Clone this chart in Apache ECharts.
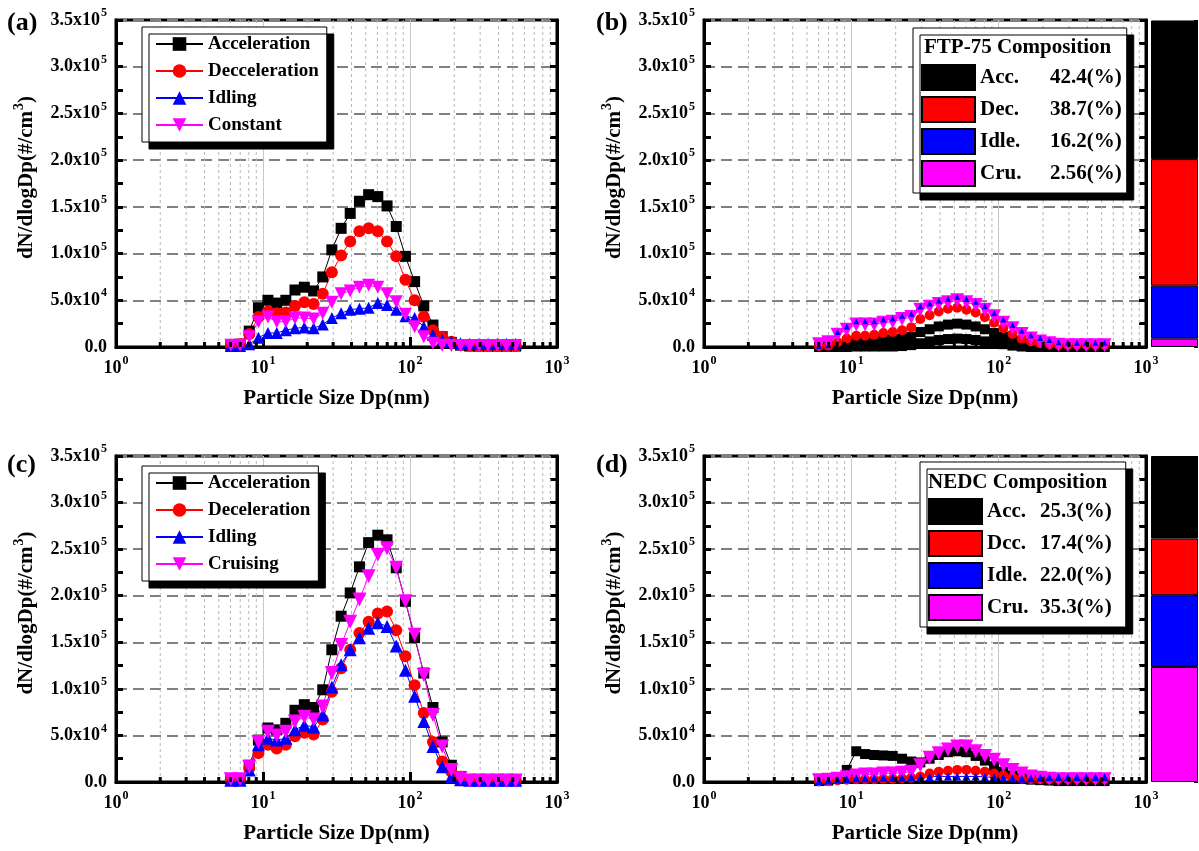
<!DOCTYPE html>
<html><head><meta charset="utf-8">
<script src="https://cdn.jsdelivr.net/npm/echarts@6/dist/echarts.min.js"></script>
<style>html,body{margin:0;padding:0;background:#fff}#c{width:1199px;height:851px}</style>
</head><body><div id="c"></div>
<script>
// ---------------- DATA ----------------
const sizes = [6.04, 6.98, 8.06, 9.31, 10.8, 12.4, 14.3, 16.5, 19.1, 22.1, 25.5, 29.4, 34.0, 39.2, 45.3, 52.3, 60.4, 69.8, 80.6, 93.1, 107.5, 124.1, 143.3, 165.5, 191.1, 220.7, 254.8, 294.3, 339.8, 392.4, 453.2, 523.3];

// (a)
const aAcc = [2000, 3000, 17000, 42000, 50000, 47000, 50000, 61000, 64000, 60000, 75000, 104000, 127000, 143000, 156000, 163000, 161000, 151000, 129000, 97000, 70000, 44000, 23500, 11000, 5000, 2000, 1000, 1000, 1000, 1000, 1000, 1000];
const aDec = [2000, 3000, 14000, 32000, 38000, 36000, 37000, 44000, 48000, 46000, 57000, 80000, 98000, 113000, 124000, 127000, 124000, 113000, 97000, 72000, 50000, 32500, 18000, 11000, 5500, 2500, 1500, 1000, 1000, 1000, 1000, 1000];
const aIdle = [1000, 1000, 3000, 10000, 15000, 15000, 18000, 20000, 21000, 20000, 24000, 31000, 36000, 40000, 41000, 42000, 47000, 45000, 40000, 33000, 31000, 21700, 12800, 7500, 6000, 4000, 3500, 3500, 3500, 3500, 3500, 3500];
const aCon = [2000, 2000, 11000, 27000, 32000, 27000, 27000, 31000, 31000, 30000, 36000, 48000, 57000, 60000, 64000, 66000, 64000, 57000, 48500, 35000, 21700, 11000, 4000, 2000, 1500, 1500, 1500, 1500, 1500, 1500, 1500, 1500];
// (c)
const cAcc = [3000, 3000, 18000, 45000, 58000, 56000, 63000, 77000, 83000, 80000, 99000, 142000, 178000, 203000, 231000, 257000, 265000, 260000, 230000, 194000, 155000, 117000, 80000, 43000, 18000, 6000, 2000, 1500, 1500, 1500, 1500, 1500];
const cDec = [3000, 3000, 15000, 31000, 40000, 36000, 40000, 49000, 53000, 51000, 67000, 97000, 122000, 142000, 160000, 172000, 181000, 183000, 163000, 135000, 104000, 74000, 43000, 22000, 11000, 5700, 2500, 2000, 2000, 2000, 2000, 2000];
const cIdle = [2000, 2000, 13000, 40000, 47000, 45000, 47000, 56000, 61000, 59000, 72000, 102000, 126000, 142000, 155000, 165000, 171000, 167000, 146000, 120000, 92000, 65000, 38000, 16500, 5700, 2500, 2000, 2000, 2000, 2000, 2000, 2000];
const cCru = [3000, 3000, 16500, 43000, 54000, 50000, 54000, 65000, 70000, 67000, 81000, 117000, 147000, 172000, 196000, 221000, 244000, 251000, 230000, 194000, 158000, 115000, 72000, 38000, 13000, 4000, 1500, 1500, 1500, 1500, 1500, 1500];
// (b) FTP-75
const bAcc = [500, 800, 2000, 4000, 6000, 6000, 6500, 7500, 8000, 9000, 11000, 16000, 19000, 22000, 24000, 25000, 24000, 22000, 19000, 15000, 11000, 7000, 4000, 2500, 1500, 1000, 500, 500, 500, 500, 500, 500];
const bAcc2 = [0, 0, 0, 0, 500, 500, 500, 500, 500, 1000, 2000, 4000, 6000, 7500, 8500, 9000, 8500, 7500, 6000, 4500, 3000, 1500, 500, 0, 0, 0, 0, 0, 0, 0, 0, 0];
const bDec = [1000, 1500, 5000, 9000, 12000, 12000, 13000, 15000, 16000, 18000, 21000, 30000, 34000, 38000, 41000, 42000, 40000, 37000, 32000, 26000, 20000, 14000, 9000, 6000, 4000, 3000, 2500, 2500, 2500, 2500, 2500, 2500];
const bCru = [3000, 5000, 13000, 18500, 24000, 24000, 24000, 26000, 27000, 30000, 32000, 40000, 43000, 46000, 48000, 50000, 48000, 45000, 40000, 33000, 26000, 20000, 14000, 9000, 6000, 4000, 2500, 2000, 2000, 2000, 2000, 2000];
const bIdle = [1000, 2000, 16000, 22000, 27500, 27500, 27500, 29500, 30500, 33500, 35500, 43500, 46500, 49500, 51500, 53500, 51500, 48500, 43500, 36500, 29500, 23500, 17500, 12500, 9500, 7500, 5000, 4500, 4500, 4500, 4500, 4500];
// (d) NEDC
const dAcc = [1000, 1500, 5000, 13000, 33000, 30000, 29000, 28500, 28000, 25000, 22000, 21000, 25000, 29000, 32000, 33000, 32000, 28000, 23000, 17000, 11000, 7000, 4000, 2500, 2000, 1500, 1000, 1000, 1000, 1000, 1000, 1000];
const dDec = [1000, 1500, 2000, 2500, 3000, 3000, 3000, 3500, 3500, 4000, 4500, 6000, 9000, 11000, 12000, 13000, 13000, 12000, 11000, 9000, 7000, 5000, 3500, 3000, 3000, 3000, 3500, 3500, 3500, 3500, 3500, 3500];
const dCru = [2000, 2500, 3500, 5000, 7000, 8000, 8000, 9000, 9000, 10000, 11000, 18000, 26000, 31000, 35000, 38000, 38000, 33000, 28000, 24000, 18000, 13000, 9000, 6000, 4500, 3500, 3000, 3000, 3000, 3000, 3000, 3000];
const dIdle = [1000, 1500, 2500, 3000, 4000, 4000, 4000, 4500, 4500, 4500, 5000, 5000, 5500, 6000, 6000, 6000, 6000, 6000, 5500, 5000, 4500, 4000, 3500, 4000, 4500, 5000, 5000, 5000, 5000, 5000, 5000, 5000];

// composition bars
const ftpNames = ['Acc.', 'Dec.', 'Idle.', 'Cru.'];
const ftpPct = [42.4, 38.7, 16.2, 2.56];
const ftpPctLabels = ['42.4(%)', '38.7(%)', '16.2(%)', '2.56(%)'];
const nedcNames = ['Acc.', 'Dcc.', 'Idle.', 'Cru.'];
const nedcPct = [25.3, 17.4, 22.0, 35.3];
const nedcPctLabels = ['25.3(%)', '17.4(%)', '22.0(%)', '35.3(%)'];

// log-axis minor tick positions
const minorTickVals = [2, 3, 4, 5, 6, 7, 8, 9, 20, 30, 40, 50, 60, 70, 80, 90, 200, 300, 400, 500, 600, 700, 800, 900];

// ---------------- STYLE ----------------
const F = "'Liberation Serif','Times New Roman',serif";
const COLORS = ['#000000', '#ff0000', '#0000ff', '#ff00ff'];
const DOWN = 'path://M0,0L10,0L5,8.7Z';

const PLOTS = [
  {left: 116, top: 20, width: 441, height: 327},  // a
  {left: 704, top: 20, width: 442, height: 327},  // b
  {left: 116, top: 456, width: 441, height: 326}, // c
  {left: 704, top: 456, width: 442, height: 326}  // d
];
const BARS = [
  {left: 1151, top: 20, width: 47, height: 327},
  {left: 1151, top: 456, width: 47, height: 326}
];

const grid = PLOTS.map(g => Object.assign({show: true, borderColor: '#000', borderWidth: 3, containLabel: false, outerBoundsMode: 'none'}, g))
  .concat(BARS.map(g => Object.assign({show: false, containLabel: false, outerBoundsMode: 'none'}, g)));

const boldText = {fontFamily: F, fontWeight: 'bold', color: '#000'};
const supRich = (big, small, raise) => ({
  m: Object.assign({fontSize: big, lineHeight: big + 2, verticalAlign: 'middle'}, boldText),
  s: Object.assign({fontSize: small, lineHeight: small, verticalAlign: 'middle', padding: [0, 0, raise, 1]}, boldText)
});

const xAxis = PLOTS.map((g, i) => ({
  gridIndex: i, type: 'log', logBase: 10, min: 1, max: 1000,
  axisLine: {show: true, onZero: false, lineStyle: {color: '#000', width: 3}},
  axisTick: {show: true, inside: true, length: 10, lineStyle: {color: '#000', width: 3}},
  splitLine: {show: true, lineStyle: {color: '#c8c8c8', width: 1}},
  axisLabel: {
    margin: 11, showMinLabel: true, showMaxLabel: true,
    formatter: v => '{m|10}{s|' + Math.round(Math.log10(v)) + '}',
    rich: supRich(18, 12, 14)
  },
  name: 'Particle Size Dp(nm)', nameLocation: 'middle', nameGap: 41,
  nameTextStyle: Object.assign({fontSize: 21}, boldText)
})).concat(BARS.map((g, i) => ({gridIndex: 4 + i, type: 'category', data: ['comp'], show: false})));

const yFmt = v => v === 0 ? '{m|0.0}' : (v < 100000 ? '{m|' + (v / 1e4).toFixed(1) + 'x10}{s|4}' : '{m|' + (v / 1e5).toFixed(1) + 'x10}{s|5}');

const yAxis = [];
PLOTS.forEach((g, i) => {
  yAxis.push({
    gridIndex: i, type: 'value', min: 0, max: 350000, interval: 50000,
    axisLine: {show: true, lineStyle: {color: '#000', width: 3}},
    axisTick: {show: true, inside: true, length: 7, lineStyle: {color: '#000', width: 3}},
    minorTick: {show: true, splitNumber: 2, length: 7, lineStyle: {color: '#000', width: 3}},
    splitLine: {show: true, lineStyle: {type: [11, 6], color: '#808080', width: 2}},
    axisLabel: {margin: 9, formatter: yFmt, rich: supRich(18, 12, 14)},
    name: '{m|dN/dlogDp(#/cm}{s|3}{m|)}', nameLocation: 'middle', nameGap: 78,
    nameTextStyle: Object.assign({fontSize: 21, padding: [0, 0, 0, 12], rich: supRich(21, 14, 14)}, boldText)
  });
  yAxis.push({
    gridIndex: i, type: 'value', position: 'right', min: 0, max: 350000, interval: 50000,
    axisLine: {show: true, lineStyle: {color: '#000', width: 3}},
    axisTick: {show: true, inside: true, length: 7, lineStyle: {color: '#000', width: 3}},
    minorTick: {show: true, splitNumber: 2, length: 7, lineStyle: {color: '#000', width: 3}},
    splitLine: {show: false}, axisLabel: {show: false}
  });
});
BARS.forEach((g, i) => {
  yAxis.push({
    gridIndex: 4 + i, type: 'value', position: 'right', min: 0, max: 100, interval: 100 / 14,
    axisLine: {show: false},
    axisTick: {show: true, inside: true, length: 4, lineStyle: {color: '#000', width: 1}},
    splitLine: {show: false}, axisLabel: {show: false}
  });
});

// ---------------- SERIES ----------------
const series = [];
function addGridDecor(gi) {
  const data = minorTickVals.map(v => [v, 0]);
  series.push({
    type: 'custom', xAxisIndex: gi, yAxisIndex: gi * 2, data, z: 1, silent: true, clip: false,
    encode: {x: 0, y: 1},
    renderItem: (params, api) => {
      const b = api.coord([api.value(0), 0]);
      const t = api.coord([api.value(0), 350000]);
      return {type: 'line', shape: {x1: b[0], y1: b[1], x2: t[0], y2: t[1]},
        style: {stroke: '#b8b8b8', lineWidth: 1, lineDash: [3, 3]}};
    }
  });
  series.push({
    type: 'custom', xAxisIndex: gi, yAxisIndex: gi * 2, data, z: 5, silent: true, clip: false,
    encode: {x: 0, y: 1},
    renderItem: (params, api) => {
      const b = api.coord([api.value(0), 0]);
      return {type: 'line', shape: {x1: b[0], y1: b[1], x2: b[0], y2: b[1] - 5},
        style: {stroke: '#000', lineWidth: 3}};
    }
  });
}
function line(name, vals, gi, color, symbol, size) {
  series.push({
    type: 'line', name, xAxisIndex: gi, yAxisIndex: gi * 2,
    data: sizes.map((s, k) => [s, vals[k]]),
    symbol, symbolSize: size, showSymbol: true, showAllSymbol: true, clip: false,
    lineStyle: {color, width: 1}, itemStyle: {color, borderWidth: 0},
    emphasis: {disabled: true}, silent: true, z: 2
  });
}
[0, 1, 2, 3].forEach(addGridDecor);

// (a)
line('Acceleration', aAcc, 0, COLORS[0], 'rect', 11);
line('Decceleration', aDec, 0, COLORS[1], 'circle', 12);
line('Idling', aIdle, 0, COLORS[2], 'triangle', 12);
line('Constant', aCon, 0, COLORS[3], DOWN, 13);
// (b)
line('FTP Acc', bAcc, 1, COLORS[0], 'rect', 10);
line('FTP Acc lower', bAcc2, 1, COLORS[0], 'rect', 10);
line('FTP Dec', bDec, 1, COLORS[1], 'circle', 10);
line('FTP Cru', bCru, 1, COLORS[3], DOWN, 14);
line('FTP Idle', bIdle, 1, COLORS[2], 'triangle', 6);
// (c)
line('Acceleration', cAcc, 2, COLORS[0], 'rect', 11);
line('Deceleration', cDec, 2, COLORS[1], 'circle', 12);
line('Idling', cIdle, 2, COLORS[2], 'triangle', 13);
line('Cruising', cCru, 2, COLORS[3], DOWN, 14);
// (d)
line('NEDC Acc', dAcc, 3, COLORS[0], 'rect', 10);
line('NEDC Dec', dDec, 3, COLORS[1], 'circle', 10);
line('NEDC Cru', dCru, 3, COLORS[3], DOWN, 14);
line('NEDC Idle', dIdle, 3, COLORS[2], 'triangle', 8);

// composition bars (stack from bottom: Cru, Idle, Dec, Acc)
function bars(names, pcts, labels, bi, stack) {
  [3, 2, 1, 0].forEach(k => {
    series.push({
      type: 'bar', name: names[k] + '|' + labels[k], xAxisIndex: 4 + bi, yAxisIndex: 8 + bi,
      stack, barWidth: '100%', data: [pcts[k]], silent: true,
      itemStyle: {color: COLORS[k], borderColor: '#000', borderWidth: 1}
    });
  });
}
bars(ftpNames, ftpPct, ftpPctLabels, 0, 'ftp');
bars(nedcNames, nedcPct, nedcPctLabels, 1, 'nedc');

// ---------------- LEGENDS ----------------
const boxStyle = {backgroundColor: '#fff', borderColor: '#000', borderWidth: 1, shadowColor: '#000', shadowBlur: 0, shadowOffsetX: 7, shadowOffsetY: 7, selectedMode: false, orient: 'vertical'};
const legA = (names, top) => Object.assign({
  data: names, left: 142, top, padding: [7, 8, 7, 13], itemGap: 7, itemWidth: 47, itemHeight: 17,
  textStyle: Object.assign({fontSize: 19, lineHeight: 20}, boldText)
}, boxStyle);
const legB = (names, labels, left, top, nW, padR) => Object.assign({
  data: names.map((n, k) => n + '|' + labels[k]), left, top, padding: [36, padR, 6, 8],
  itemGap: 5, itemWidth: 53, itemHeight: 25, icon: 'rect',
  formatter: n => { const p = n.split('|'); return '{n|' + p[0] + '}{v|' + p[1] + '}'; },
  textStyle: Object.assign({fontSize: 21, rich: {
    n: Object.assign({fontSize: 21, width: nW}, boldText),
    v: Object.assign({fontSize: 21}, boldText)
  }}, boldText)
}, boxStyle);

const legend = [
  legA(['Acceleration', 'Decceleration', 'Idling', 'Constant'], 27),
  legA(['Acceleration', 'Deceleration', 'Idling', 'Cruising'], 466),
  legB(ftpNames, ftpPctLabels, 913, 28, 70, 5),
  legB(nedcNames, nedcPctLabels, 920, 462, 53, 14)
];

const title = [
  {text: '(a)', left: 7, top: 10, padding: 0, textStyle: Object.assign({fontSize: 26}, boldText)},
  {text: '(b)', left: 596, top: 10, padding: 0, textStyle: Object.assign({fontSize: 26}, boldText)},
  {text: '(c)', left: 7, top: 452, padding: 0, textStyle: Object.assign({fontSize: 26}, boldText)},
  {text: '(d)', left: 596, top: 452, padding: 0, textStyle: Object.assign({fontSize: 26}, boldText)},
  {text: 'FTP-75 Composition', left: 924, top: 37, padding: 0, z: 10, textStyle: Object.assign({fontSize: 21}, boldText)},
  {text: 'NEDC Composition', left: 928, top: 472, padding: 0, z: 10, textStyle: Object.assign({fontSize: 21}, boldText)}
];

const chart = echarts.init(document.getElementById('c'));
chart.setOption({animation: false, backgroundColor: '#fff', grid, xAxis, yAxis, series, legend, title});
</script></body></html>
